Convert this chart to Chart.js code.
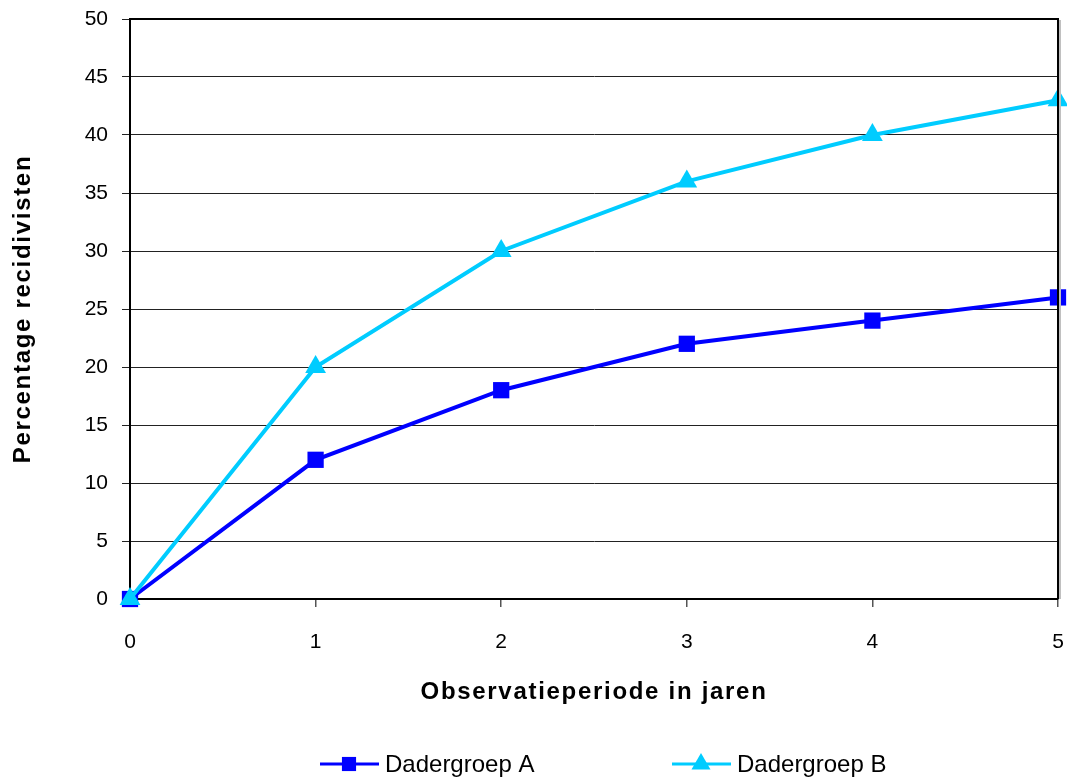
<!DOCTYPE html>
<html>
<head>
<meta charset="utf-8">
<script src="https://cdn.jsdelivr.net/npm/chart.js"></script>
<style>
  html, body { margin: 0; padding: 0; background: #fff; }
  #wrap { width: 1067px; height: 778px; }
</style>
</head>
<body>
<div id="wrap"><canvas id="chart" width="1067" height="778"></canvas></div>
<script>
const years = [0, 1, 2, 3, 4, 5];
const groupA = [0, 12, 18, 22, 24, 26];
const groupB = [0, 20, 30, 36, 40, 43];
const seriesNames = ["Dadergroep A", "Dadergroep B"];
const yTitle = "Percentage recidivisten";
const xTitle = "Observatieperiode in jaren";

const FONT = "'Liberation Sans', Arial, sans-serif";
const BLUE = "#0000ff";
const CYAN = "#00ccff";

function points(values) {
  return years.map((year, i) => ({ x: year, y: values[i] }));
}

// titles in the reference are spaced out a little
const spacedTitles = {
  id: "spacedTitles",
  beforeDraw(chart) {
    for (const scale of Object.values(chart.scales)) {
      if (scale._spaced) continue;
      const orig = scale.drawTitle;
      scale.drawTitle = function() {
        const ctx = this.ctx;
        ctx.save();
        ctx.letterSpacing = "1.7px";
        orig.call(this);
        ctx.restore();
      };
      scale._spaced = true;
    }
  }
};

// box round the plot area, with the faint shadow on the right
const plotFrame = {
  id: "plotFrame",
  afterDatasetsDraw(chart) {
    const { ctx, chartArea: a } = chart;
    ctx.save();
    ctx.strokeStyle = "#c0c0c0";
    ctx.lineWidth = 2;
    ctx.beginPath();
    ctx.moveTo(a.right + 2, a.top + 1);
    ctx.lineTo(a.right + 2, a.bottom);
    ctx.stroke();
    ctx.strokeStyle = "#000";
    ctx.lineWidth = 2;
    ctx.beginPath();
    ctx.moveTo(a.left, a.top);
    ctx.lineTo(a.right, a.top);
    ctx.lineTo(a.right, a.bottom);
    ctx.stroke();
    ctx.restore();
  }
};

// legend: line with the marker in the middle, then the name
const lineLegend = {
  id: "lineLegend",
  afterDraw(chart) {
    const ctx = chart.ctx;
    const starts = [320, 672];
    const y = 764;
    ctx.save();
    chart.data.datasets.forEach((ds, i) => {
      const x0 = starts[i];
      ctx.strokeStyle = ds.borderColor;
      ctx.lineWidth = 3;
      ctx.beginPath();
      ctx.moveTo(x0, y);
      ctx.lineTo(x0 + 59, y);
      ctx.stroke();
      ctx.fillStyle = ds.pointBackgroundColor;
      ctx.strokeStyle = ds.pointBackgroundColor;
      Chart.helpers.drawPoint(ctx, {
        pointStyle: ds.pointStyle,
        radius: ds.pointStyle === "rect" ? 10 : 11,
        borderWidth: 0,
        rotation: 0
      }, x0 + 29, y);
      ctx.fillStyle = "#000";
      ctx.font = "24px " + FONT;
      ctx.textBaseline = "alphabetic";
      ctx.textAlign = "left";
      ctx.fillText(ds.label, x0 + 65, 772);
    });
    ctx.restore();
  }
};

new Chart(document.getElementById("chart").getContext("2d"), {
  type: "line",
  data: {
    datasets: [
      {
        label: seriesNames[0],
        data: points(groupA),
        borderColor: BLUE,
        backgroundColor: BLUE,
        pointBackgroundColor: BLUE,
        pointBorderColor: BLUE,
        borderWidth: 4,
        pointStyle: "rect",
        pointRadius: 11.5,
        pointBorderWidth: 0,
        pointHoverRadius: 11.5,
        clip: false,
        order: 1
      },
      {
        label: seriesNames[1],
        data: points(groupB),
        borderColor: CYAN,
        backgroundColor: CYAN,
        pointBackgroundColor: CYAN,
        pointBorderColor: CYAN,
        borderWidth: 4,
        pointStyle: "triangle",
        pointRadius: 12,
        pointBorderWidth: 0,
        pointHoverRadius: 12,
        clip: false,
        order: 0
      }
    ]
  },
  options: {
    responsive: false,
    animation: false,
    layout: { autoPadding: false, padding: { left: 0, right: 9, top: 19, bottom: 71 } },
    scales: {
      x: {
        type: "linear",
        min: 0,
        max: 5,
        afterFit(scale) {
          scale.height = 108;
          scale.paddingLeft = 0;
          scale.paddingRight = 0;
        },
        ticks: {
          stepSize: 1,
          padding: 23,
          color: "#000",
          font: { family: FONT, size: 21 }
        },
        grid: {
          drawOnChartArea: false,
          drawTicks: true,
          tickLength: 8,
          color: "#555",
          lineWidth: 1.5
        },
        border: { display: true, color: "#000", width: 2 },
        title: {
          display: true,
          text: xTitle,
          color: "#000",
          padding: 0,
          font: { family: FONT, size: 24, weight: "bold", lineHeight: 1.2 }
        }
      },
      y: {
        min: 0,
        max: 50,
        afterFit(scale) {
          scale.width = 130;
          scale.paddingTop = 0;
          scale.paddingBottom = 0;
        },
        ticks: {
          stepSize: 5,
          padding: 14,
          color: "#000",
          font: { family: FONT, size: 21 }
        },
        grid: {
          drawTicks: true,
          tickLength: 8,
          color: "#222",
          lineWidth: 1
        },
        border: { display: true, color: "#000", width: 2 },
        title: {
          display: true,
          text: yTitle,
          color: "#000",
          padding: { top: 8.6, bottom: 0 },
          font: { family: FONT, size: 24, weight: "bold", lineHeight: 1.2 }
        }
      }
    },
    plugins: {
      legend: { display: false },
      tooltip: { enabled: false },
      title: { display: false }
    }
  },
  plugins: [spacedTitles, plotFrame, lineLegend]
});
</script>
</body>
</html>
